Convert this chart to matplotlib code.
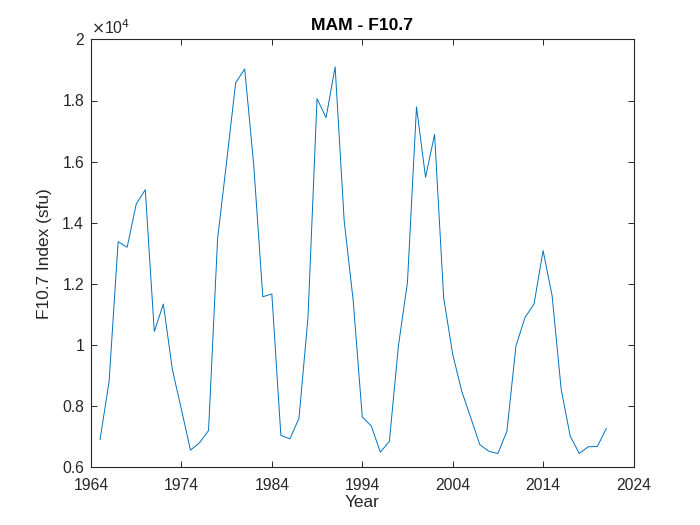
import numpy as np
import matplotlib
matplotlib.use("Agg")
import matplotlib.pyplot as plt
from matplotlib.ticker import FuncFormatter

# annual MAM F10.7 values (x 1e4 in the plot)
years = list(range(1965, 2022))
f107 = [0.691, 0.880, 1.338, 1.320, 1.461, 1.508, 1.044, 1.134, 0.920, 0.789,
        0.656, 0.680, 0.720, 1.347, 1.600, 1.858, 1.903, 1.588, 1.158, 1.167,
        0.704, 0.693, 0.760, 1.090, 1.806, 1.744, 1.910, 1.407, 1.145, 0.765,
        0.735, 0.649, 0.685, 0.997, 1.205, 1.779, 1.549, 1.689, 1.156, 0.970,
        0.849, 0.762, 0.674, 0.652, 0.645, 0.718, 0.997, 1.090, 1.134, 1.309,
        1.161, 0.855, 0.702, 0.645, 0.667, 0.668, 0.727]
f107 = np.array(f107) * 1e4

xticks = [1964, 1974, 1984, 1994, 2004, 2014, 2024]
yticks = [6000, 8000, 10000, 12000, 14000, 16000, 18000, 20000]

plt.rcParams['font.family'] = ['Liberation Sans', 'DejaVu Sans']
axc = '#262626'

fig = plt.figure(figsize=(7, 5.25), dpi=100)
ax = fig.add_axes([0.13, 0.11, 0.775, 0.815])
ax.plot(years, f107, color='#0072BD', lw=0.7)
ax.set_xlim(1964, 2024)
ax.set_ylim(6000, 20000)
ax.set_xticks(xticks)
ax.set_yticks(yticks)
ax.yaxis.set_major_formatter(FuncFormatter(lambda v, p: f"{v / 1e4:g}"))
ax.tick_params(direction='in', top=True, right=True, length=4, width=0.7,
               colors=axc, labelsize=11.3)
ax.tick_params(axis='x', pad=8)
ax.tick_params(axis='y', pad=5)
for s in ax.spines.values():
    s.set_color(axc)
    s.set_linewidth(0.8)
ax.set_title("MAM - F10.7", fontsize=12.6, fontweight='bold', color='black', pad=7)
ax.set_xlabel("Year", fontsize=12.4, color=axc, labelpad=1)
ax.set_ylabel("F10.7 Index (sfu)", fontsize=12.4, color=axc, labelpad=7)
ax.text(0.0, 1.005, r"$\times$10$^4$", transform=ax.transAxes, fontsize=11.3,
        color=axc, ha='left', va='bottom')

fig.savefig("out.png", dpi=100)
